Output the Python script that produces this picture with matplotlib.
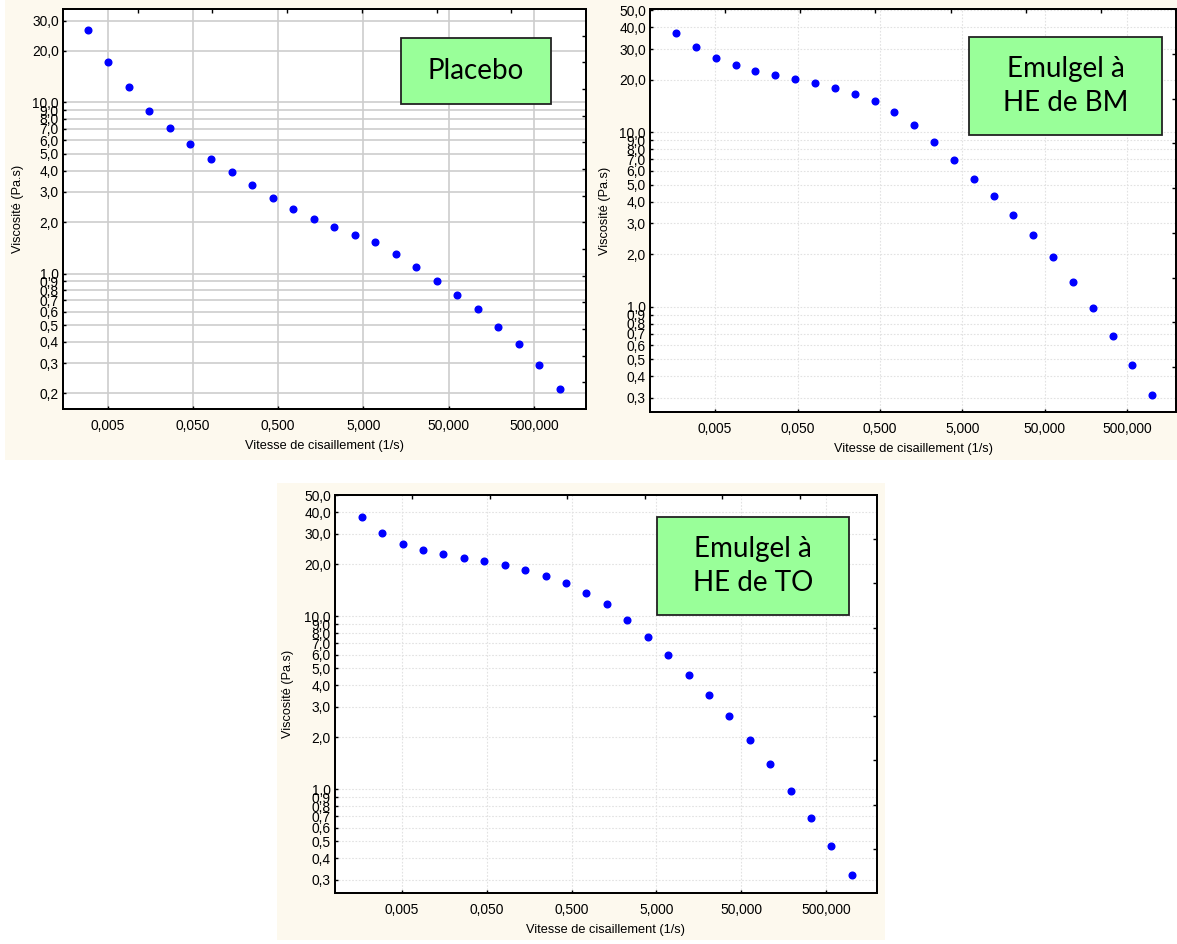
import matplotlib
matplotlib.use("Agg")
import matplotlib.pyplot as plt
from matplotlib.patches import Rectangle
from matplotlib.ticker import FixedLocator, NullLocator, FuncFormatter

plt.rcParams['font.family'] = ['Liberation Sans', 'DejaVu Sans']

# ---- data ----
shear_rate = [0.00168, 0.00292, 0.00509, 0.00886, 0.0154, 0.0269, 0.0468, 0.0814,
              0.142, 0.247, 0.430, 0.748, 1.30, 2.27, 3.95, 6.87, 12.0, 20.8,
              36.3, 63.2, 110, 191, 333, 580, 1010]

visc_placebo = [26.5, 17.1, 12.3, 8.96, 7.13, 5.75, 4.70, 3.93, 3.30, 2.76, 2.38, 2.08,
                1.88, 1.68, 1.52, 1.30, 1.09, 0.90, 0.748, 0.62, 0.49, 0.387, 0.293, 0.213]
rate_placebo = shear_rate[1:]

visc_bm = [37.2, 30.7, 26.7, 24.2, 22.5, 21.4, 20.3, 19.2, 18.0, 16.6, 15.1, 13.1,
           11.0, 8.8, 6.93, 5.42, 4.30, 3.36, 2.57, 1.92, 1.39, 0.986, 0.679, 0.461, 0.312]

visc_to = [37.3, 30.4, 26.3, 24.3, 22.9, 21.8, 20.8, 19.9, 18.6, 17.2, 15.5, 13.6,
           11.8, 9.5, 7.6, 5.97, 4.57, 3.50, 2.64, 1.93, 1.40, 0.98, 0.68, 0.468, 0.321]

x_ticks = [0.005, 0.05, 0.5, 5, 50, 500]
y_ticks_placebo = [0.2, 0.3, 0.4, 0.5, 0.6, 0.7, 0.8, 0.9, 1, 2, 3, 4, 5, 6, 7, 8, 9, 10, 20, 30]
y_ticks_emulgel = [0.3, 0.4, 0.5, 0.6, 0.7, 0.8, 0.9, 1, 2, 3, 4, 5, 6, 7, 8, 9, 10, 20, 30, 40, 50]

labels = ["Placebo", "Emulgel à\nHE de BM", "Emulgel à\nHE de TO"]
xlabel = "Vitesse de cisaillement (1/s)"
ylabel = "Viscosité (Pa.s)"

# ---- figure ----
W, H = 1177, 944
fig = plt.figure(figsize=(W / 100, H / 100), dpi=100)
fig.patch.set_facecolor("white")

cream = "#fdf9ee"

def px_rect(x0, y0, x1, y1, **kw):
    return Rectangle((x0 / W, 1 - y1 / H), (x1 - x0) / W, (y1 - y0) / H,
                     transform=fig.transFigure, **kw)

fig.patches.append(px_rect(5, 0, 1177, 460, facecolor=cream, edgecolor="none", zorder=-5))
fig.patches.append(px_rect(277, 483, 885, 940, facecolor=cream, edgecolor="none", zorder=-5))

def make_ax(x0, y0, x1, y1):
    return fig.add_axes([x0 / W, 1 - y1 / H, (x1 - x0) / W, (y1 - y0) / H])

yfmt = FuncFormatter(lambda v, p: ("%.1f" % v).replace(".", ","))
xfmt = FuncFormatter(lambda v, p: ("%.3f" % v).replace(".", ","))

def style(ax, xlim, ylim, yticks, solid_grid, ntop, nright):
    ax.set_xscale("log")
    ax.set_yscale("log")
    ax.set_xlim(*xlim)
    ax.set_ylim(*ylim)
    ax.xaxis.set_major_locator(FixedLocator(x_ticks))
    ax.xaxis.set_minor_locator(NullLocator())
    ax.yaxis.set_major_locator(FixedLocator(yticks))
    ax.yaxis.set_minor_locator(NullLocator())
    ax.xaxis.set_major_formatter(xfmt)
    ax.yaxis.set_major_formatter(yfmt)
    ax.tick_params(axis="both", direction="in", length=2, width=1, labelsize=9.9,
                   colors="black")
    ax.tick_params(axis="x", pad=7)
    ax.tick_params(axis="y", pad=3)
    if solid_grid:
        ax.grid(True, which="major", color="#cdcdcd", linewidth=1.2, linestyle="-")
    else:
        ax.grid(True, which="major", color="#e2e2e2", linewidth=0.8, linestyle=(0, (1.5, 1.5)))
    ax.set_axisbelow(True)
    for s in ax.spines.values():
        s.set_linewidth(1.2)
        s.set_color("black")
    ax.set_xlabel(xlabel, fontsize=9.2)
    ax.set_ylabel(ylabel, fontsize=9.2)
    ax.yaxis.set_label_coords(-0.086, 0.5)
    ax.xaxis.set_label_coords(0.5, -0.092)
    ax.xaxis.label.set_va("center")
    ax.yaxis.label.set_va("center")
    ax.set_facecolor("white")
    # secondary (unlabelled) top / right ticks
    tx = ax.twiny()
    tx.set_xlim(0, ntop)
    tx.set_xticks(range(1, ntop))
    tx.tick_params(axis="x", direction="in", length=3, width=1, labeltop=False)
    ty = ax.twinx()
    ty.set_ylim(0, nright)
    ty.set_yticks(range(1, nright))
    ty.tick_params(axis="y", direction="in", length=3, width=1, labelright=False)
    for t in (tx, ty):
        for s in t.spines.values():
            s.set_linewidth(1.2)

def label_box(x0, y0, x1, y1, text):
    fig.patches.append(px_rect(x0, y0, x1, y1, facecolor="#99ff99", edgecolor="#222222",
                               linewidth=1.3, zorder=5))
    fig.text((x0 + x1) / 2 / W, 1 - (y0 + y1) / 2 / H, text, ha="center", va="center",
             fontsize=20, family=["Lato", "DejaVu Sans"], linespacing=1.35, zorder=6)

# Panel 1: Placebo
ax1 = make_ax(63, 9, 586, 409)
style(ax1, (0.0015, 2040), (0.162, 35.1), y_ticks_placebo, True, 7, 15)
ax1.plot(rate_placebo, visc_placebo, "o", color="#0000ff", markersize=4.8, zorder=3)

# Panel 2: BM
ax2 = make_ax(650, 9, 1176, 412)
style(ax2, (0.00081, 1960), (0.249, 50.9), y_ticks_emulgel, False, 7, 9)
ax2.plot(shear_rate, visc_bm, "o", color="#0000ff", markersize=4.8, zorder=3)

# Panel 3: TO
ax3 = make_ax(335, 495, 877, 893)
style(ax3, (0.00081, 1996), (0.252, 50.2), y_ticks_emulgel, False, 7, 9)
ax3.plot(shear_rate, visc_to, "o", color="#0000ff", markersize=4.8, zorder=3)

label_box(401, 38, 551, 104, labels[0])
label_box(969, 37, 1162, 135, labels[1])
label_box(657, 517, 849, 615, labels[2])

fig.savefig("out.png", dpi=100, facecolor=fig.get_facecolor())
